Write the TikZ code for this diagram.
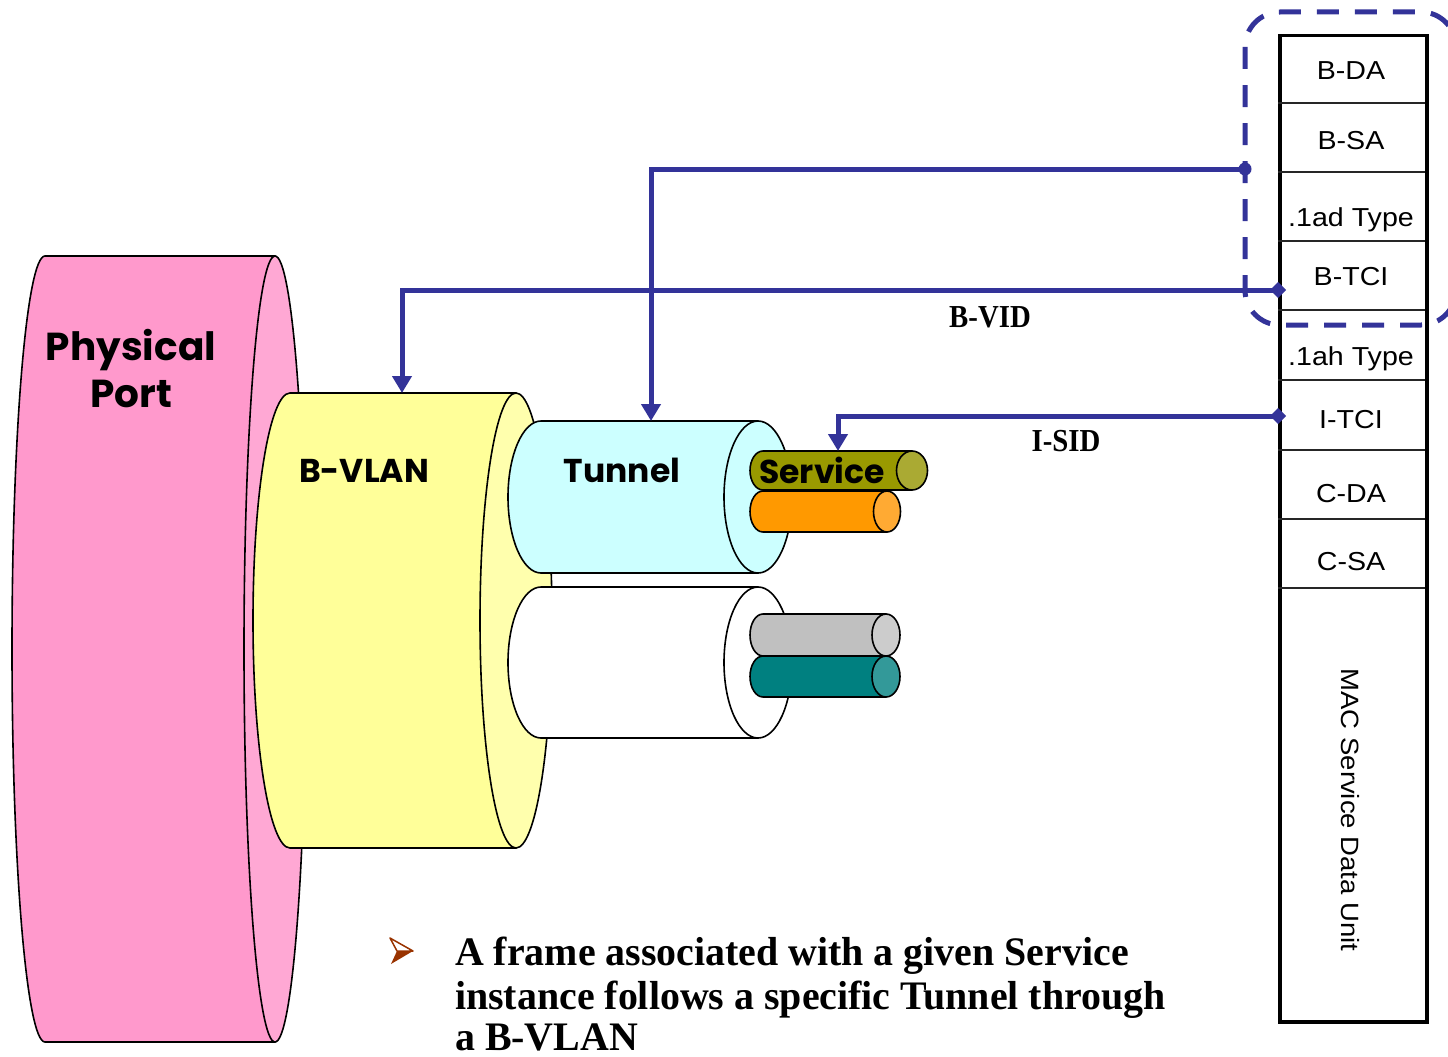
\documentclass[tikz,border=0pt]{standalone}
\usepackage{fontspec}
\setmainfont{Liberation Serif}
\newfontfamily\arialf[FakeStretch=1.1]{Liberation Sans}
\newfontfamily\timesf[FakeStretch=0.9]{Liberation Serif}
\newfontfamily\timesbul[FakeStretch=0.985]{Liberation Serif}
\newfontfamily\comicf{Poppins}
\usetikzlibrary{arrows.meta}
\definecolor{lineblue}{HTML}{333399}
\definecolor{ppbody}{HTML}{FF99CC}
\definecolor{ppface}{HTML}{FFA8D4}
\definecolor{bvbody}{HTML}{FFFF99}
\definecolor{bvface}{HTML}{FFFFAD}
\definecolor{tnbody}{HTML}{CCFFFF}
\definecolor{olbody}{HTML}{999900}
\definecolor{olface}{HTML}{AAAA33}
\definecolor{orbody}{HTML}{FF9900}
\definecolor{orface}{HTML}{FFAA33}
\definecolor{grbody}{HTML}{C0C0C0}
\definecolor{grface}{HTML}{CCCCCC}
\definecolor{tlbody}{HTML}{008080}
\definecolor{tlface}{HTML}{339999}
\definecolor{bulbrown}{HTML}{993300}
% #1 xl  #2 xr  #3 yc  #4 rx left  #5 rx right  #6 ry  #7 body  #8 face
\newcommand{\hcyl}[8]{%
  \filldraw[fill=#7,draw=black,line width=1.6,line join=round]
    (#1,{#3-#6}) -- (#2,{#3-#6}) -- (#2,{#3+#6}) -- (#1,{#3+#6})
    .. controls ({#1-0.5523*#4},{#3+#6}) and ({#1-#4},{#3+0.5523*#6}) .. ({#1-#4},#3)
    .. controls ({#1-#4},{#3-0.5523*#6}) and ({#1-0.5523*#4},{#3-#6}) .. cycle;
  \filldraw[fill=#8,draw=black,line width=1.6]
    (#2,{#3-#6}) .. controls ({#2+0.5523*#5},{#3-#6}) and ({#2+#5},{#3-0.5523*#6}) .. ({#2+#5},#3)
    .. controls ({#2+#5},{#3+0.5523*#6}) and ({#2+0.5523*#5},{#3+#6}) .. (#2,{#3+#6})
    .. controls ({#2-0.5523*#5},{#3+#6}) and ({#2-#5},{#3+0.5523*#6}) .. ({#2-#5},#3)
    .. controls ({#2-#5},{#3-0.5523*#6}) and ({#2-0.5523*#5},{#3-#6}) .. cycle;
}
\tikzset{
  comictext/.style={font=\comicf\bfseries\fontsize{33}{40}\selectfont, inner sep=0, anchor=base},
  bigcomic/.style={font=\comicf\bfseries\fontsize{39}{46}\selectfont, inner sep=0, anchor=base},
  celltext/.style={font=\arialf\fontsize{26}{30}\selectfont, inner sep=0, anchor=base},
  fieldlabel/.style={font=\timesf\bfseries\fontsize{32}{36}\selectfont, inner sep=0, anchor=base},
  bullettext/.style={font=\timesbul\bfseries\fontsize{40.5}{44}\selectfont, inner sep=0, anchor=base west},
  bluewire/.style={draw=lineblue, line width=5, -{Triangle[width=19pt,length=17pt]}},
  celldiv/.style={line width=1.2, draw=black!85},
}
\begin{document}
\begin{tikzpicture}[x=1pt,y=-1pt]
\useasboundingbox (0,0) rectangle (1448,1057);
\clip (0,0) rectangle (1448,1057);
% cylinders
\hcyl{45}{275}{649}{33}{31}{393}{ppbody}{ppface}
\hcyl{290}{516}{620.5}{37}{36}{227.5}{bvbody}{bvface}
\hcyl{541}{758}{497}{33}{34}{76}{tnbody}{tnbody}
\hcyl{541}{758}{662.5}{33}{34}{75.5}{white}{white}
\hcyl{763}{912}{470.5}{13}{15.5}{19.5}{olbody}{olface}
\hcyl{763}{887}{511.5}{13}{13.5}{20.5}{orbody}{orface}
\hcyl{763}{886}{635}{13}{14}{21}{grbody}{grface}
\hcyl{763}{886}{676.5}{13}{14}{20.5}{tlbody}{tlface}
% cylinder labels
\node[bigcomic] (pp1) at (131,360) {Physical};
\node[bigcomic] (pp2) at (131,407) {Port};
\node[comictext] (bvlan) at (364,482) {B-VLAN};
\node[comictext] (tunnel) at (622,482) {Tunnel};
\node[comictext] (service) at (822,483) {Service};
\coordinate (bvlan-top) at (402,393);
\coordinate (tunnel-top) at (651,421);
\coordinate (service-top) at (838,451);
% frame
\node[draw, line width=3.5, minimum width=147pt, minimum height=986pt, inner sep=0, anchor=north west] (frame) at (1278,34) {};
\foreach \yy in {103,172,241,310,380,450,519,588} \draw[celldiv] (1278,\yy) -- (1425,\yy);
\node[celltext] (bda) at (1351,80) {B-DA};
\node[celltext] (bsa) at (1351,149) {B-SA};
\node[celltext] (adtype) at (1351,226) {.1ad Type};
\node[celltext] (btci) at (1351,285) {B-TCI};
\node[celltext] (ahtype) at (1351,365) {.1ah Type};
\node[celltext] (itci) at (1351,428) {I-TCI};
\node[celltext] (cda) at (1351,502) {C-DA};
\node[celltext] (csa) at (1351,570) {C-SA};
\node[font=\arialf\fontsize{25}{30}\selectfont, inner sep=0, rotate=-90] (msdu) at (1350,810) {MAC Service Data Unit};
% dashed group
\draw[lineblue, line width=5, dash pattern=on 22pt off 16pt, rounded corners=35pt] (1245,12) rectangle (1456,325);
\coordinate (bda-grp) at (1245,169);
\coordinate (btci-pt) at (1278,290);
\coordinate (itci-pt) at (1278,416);
% connectors
\draw[bluewire] (bda-grp) -| (tunnel-top);
\draw[bluewire] (btci-pt) -| (bvlan-top);
\draw[bluewire] (itci-pt) -| (service-top);
\fill[lineblue] (bda-grp) circle (6.5);
\fill[lineblue] (btci-pt) +(-8,0) -- +(0,-8) -- +(8,0) -- +(0,8) -- cycle;
\fill[lineblue] (itci-pt) +(-8,0) -- +(0,-8) -- +(8,0) -- +(0,8) -- cycle;
\node[fieldlabel] (bvid) at (990,327) {B-VID};
\node[fieldlabel] (isid) at (1066,451) {I-SID};
% bullet
\draw[bulbrown, line width=1.5, fill=white, line join=round] (390,938) -- (413,951) -- (397,951) -- cycle;
\fill[bulbrown] (397,951) -- (413,951) -- (391,964) -- cycle;
\node[bullettext] (bl1) at (455,965) {A frame associated with a given Service};
\node[bullettext] (bl2) at (455,1009) {instance follows a specific Tunnel through};
\node[bullettext] (bl3) at (455,1050) {a B-VLAN};
\end{tikzpicture}
\end{document}
